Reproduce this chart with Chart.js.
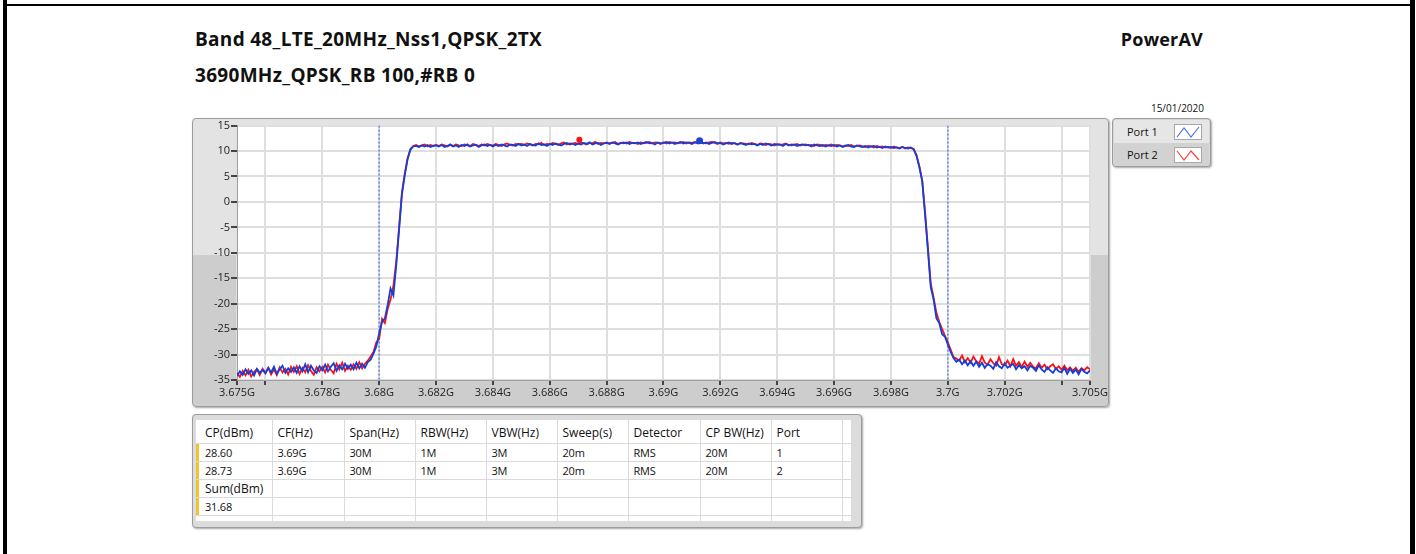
<!DOCTYPE html>
<html>
<head>
<meta charset="utf-8">
<title>Band 48 LTE 20MHz PowerAV</title>
<script src="https://cdn.jsdelivr.net/npm/chart.js@4.4.3/dist/chart.umd.min.js"></script>
<style>
  html, body { margin: 0; padding: 0; background: #fff; }
  body {
    width: 1416px; height: 554px; position: relative; overflow: hidden;
    font-family: "Open Sans", "Noto Sans", sans-serif; color: #111;
  }
  .edge { position: absolute; background: #000; }
  .title {
    position: absolute; font-weight: 700; font-size: 19px; line-height: 24px;
    letter-spacing: 0.3px; white-space: nowrap; color: #111;
  }
  .date {
    position: absolute; font-size: 10px; line-height: 14px; color: #111;
    right: 212px; top: 101px;
  }
  .panel {
    position: absolute; box-sizing: border-box;
    border: 1px solid #9c9c9c; border-radius: 4px;
    box-shadow: 1px 1px 2px rgba(0, 0, 0, 0.35);
  }
  #plot-panel {
    left: 192px; top: 118px; width: 917px; height: 289px;
    background: linear-gradient(to bottom, #e3e3e3 0, #e3e3e3 136px, #cdcdcd 136px, #cdcdcd 100%);
  }
  #chart-box { position: absolute; left: 192px; top: 118px; width: 917px; height: 289px; }
  #legend-panel {
    left: 1112px; top: 118px; width: 99px; height: 49px; background: #d6d6d6; overflow: hidden;
  }
  .legend-row {
    position: absolute; left: 1px; width: 95px; height: 23px; font-size: 11px; line-height: 23px;
  }
  .legend-row span { position: absolute; left: 13px; }
  .legend-row svg {
    position: absolute; left: 60px; top: 4px; width: 26px; height: 14px;
    background: #fff; border: 1px solid #a8a8a8;
  }
  #table-panel {
    left: 192px; top: 414px; width: 670px; height: 114px; background: #dcdcdc;
  }
  #table-inner {
    position: absolute; left: 3px; top: 5px; width: 656px; height: 101px;
    background: #fff; overflow: hidden;
  }
  #cp-table { border-collapse: collapse; table-layout: fixed; font-size: 12px; }
  #cp-table td {
    border-right: 1px solid #dadada; border-bottom: 1px solid #dadada;
    padding: 0 0 0 5px; white-space: nowrap; overflow: hidden; color: #111;
  }
  #cp-table tr.head td { height: 21px; padding-top: 2px; }
  #cp-table tr.body td { height: 17px; font-size: 11px; letter-spacing: -0.2px; }
  #cp-table tr.body td.first { font-size: 12px; letter-spacing: 0; }
  #cp-table tr.body td.mark { box-shadow: inset 3px 0 0 #f2c230; padding-left: 9px; }
  #cp-table tr.head td.mark { padding-left: 9px; }
</style>
</head>
<body>
<div class="edge" style="left:3px;top:0;width:4px;height:554px;"></div>
<div class="edge" style="left:1410px;top:0;width:5px;height:554px;"></div>
<div class="edge" style="left:7px;top:4px;width:1403px;height:2px;"></div>

<div class="title" style="left:195px;top:27px;">Band 48_LTE_20MHz_Nss1,QPSK_2TX</div>
<div class="title" style="left:195px;top:63px;">3690MHz_QPSK_RB 100,#RB 0</div>
<div class="title" style="right:213px;top:27px;font-size:18px;letter-spacing:0.2px;">PowerAV</div>
<div class="date">15/01/2020</div>

<div class="panel" id="plot-panel"></div>
<div id="chart-box"><canvas id="spectrum-chart" width="917" height="289"></canvas></div>

<div class="panel" id="legend-panel">
  <div class="legend-row" style="top:1px;background:#e6e6e6;">
    <span>Port 1</span>
    <svg viewBox="0 0 26 14"><polyline points="2,12 9,3 16,12 24,2" fill="none" stroke="#4a72e6" stroke-width="1.2"/></svg>
  </div>
  <div class="legend-row" style="top:24px;background:#d2d2d2;">
    <span>Port 2</span>
    <svg viewBox="0 0 26 14"><polyline points="2,3 9,12 16,3 24,12" fill="none" stroke="#ff4040" stroke-width="1.2"/></svg>
  </div>
</div>

<div class="panel" id="table-panel">
  <div id="table-inner"><table id="cp-table"></table></div>
</div>

<script>
// sweep: 3675 MHz .. 3705 MHz, 0.1 MHz per point (301 points), levels in dBm
const freqStartMHz = 3675;
const freqStepMHz = 0.1;

const port1Level = [
  -34.2, -33.3, -34.0, -32.9, -33.8, -33.1, -34.1, -32.8, -33.6, -33.0,
  -33.7, -32.6, -33.5, -32.4, -33.8, -32.9, -32.2, -33.6, -32.7, -33.4,
  -32.5, -33.6, -32.3, -33.3, -31.9, -33.5, -32.2, -33.1, -33.6, -32.3,
  -33.1, -32.0, -33.3, -32.4, -31.7, -33.2, -32.1, -32.9, -31.8, -32.8,
  -32.0, -32.9, -31.6, -32.7, -31.8, -32.6, -31.5, -31.0, -29.8, -28.4,
  -25.8, -23.6, -22.9, -20.2, -17.0, -18.4, -12.5, -5.5, 1.5, 5.2,
  8.4, 10.3, 10.9, 11.0, 10.8, 11.1, 10.9, 11.2, 10.8, 11.0,
  11.1, 10.9, 11.2, 10.8, 11.0, 11.3, 10.9, 11.1, 10.8, 11.2,
  11.0, 11.3, 10.9, 11.1, 11.2, 10.8, 11.1, 11.3, 11.0, 11.2,
  10.9, 11.2, 11.0, 11.3, 11.1, 10.9, 11.3, 11.2, 11.0, 11.4,
  11.1, 11.3, 11.0, 11.4, 11.2, 11.1, 11.5, 11.2, 11.3, 11.0,
  11.4, 11.2, 11.5, 11.3, 11.1, 11.4, 11.6, 11.3, 11.5, 11.2,
  11.5, 11.3, 11.6, 11.4, 11.7, 11.3, 11.5, 11.6, 11.2, 11.5,
  11.6, 11.4, 11.7, 11.5, 11.3, 11.6, 11.5, 11.7, 11.4, 11.6,
  11.5, 11.7, 11.4, 11.6, 11.8, 11.5, 11.6, 11.3, 11.7, 11.5,
  11.6, 11.8, 11.5, 11.7, 11.4, 11.6, 11.8, 11.5, 11.7, 11.6,
  11.4, 11.7, 11.6, 11.8, 11.5, 11.7, 11.4, 11.6, 11.8, 11.5,
  11.6, 11.3, 11.5, 11.7, 11.4, 11.6, 11.3, 11.5, 11.4, 11.2,
  11.5, 11.3, 11.4, 11.1, 11.4, 11.2, 11.5, 11.3, 11.1, 11.4,
  11.2, 11.3, 11.0, 11.4, 11.2, 11.1, 11.3, 11.0, 11.2, 11.3,
  11.1, 11.2, 10.9, 11.3, 11.1, 11.0, 11.2, 10.9, 11.1, 11.0,
  11.2, 10.9, 11.1, 10.8, 11.0, 11.2, 10.9, 10.8, 11.1, 10.9,
  10.8, 11.0, 10.7, 10.9, 11.0, 10.7, 10.8, 10.6, 10.9, 10.7,
  10.8, 10.6, 10.7, 10.5, 10.8, 10.6, 10.5, 10.7, 10.3, 9.0,
  6.8, 4.0, -2.5, -9.5, -16.8, -19.2, -22.9, -23.8, -26.0, -26.5,
  -28.0, -29.5, -30.7, -31.4, -31.0, -31.9, -31.2, -32.1, -31.3, -32.2,
  -31.4, -32.4, -31.6, -32.6, -31.9, -32.2, -32.8, -31.5, -32.3, -32.7,
  -31.7, -32.6, -32.2, -31.8, -32.9, -32.1, -32.7, -32.3, -33.1, -32.2,
  -32.6, -33.2, -32.1, -32.9, -33.4, -32.5, -33.1, -33.6, -32.7, -33.3,
  -33.5, -32.6, -33.8, -32.8, -33.6, -32.9, -33.9, -32.8, -33.4, -33.7,
  -33.1,
];

const port2Level = [
  -33.6, -34.4, -33.2, -34.1, -33.0, -34.3, -33.4, -32.9, -34.0, -32.8,
  -33.6, -32.6, -33.9, -32.9, -34.0, -32.5, -33.5, -32.8, -33.9, -32.4,
  -33.4, -32.3, -33.8, -32.6, -33.5, -32.1, -33.2, -34.0, -32.5, -33.3,
  -32.4, -33.5, -32.0, -33.0, -33.7, -31.8, -32.9, -31.6, -33.2, -32.2,
  -33.0, -31.9, -32.8, -31.5, -32.7, -31.8, -31.2, -30.4, -29.5, -27.6,
  -26.9, -23.0, -23.8, -21.0, -19.2, -16.5, -11.8, -5.0, 1.8, 5.6,
  8.6, 10.4, 11.0, 11.2, 10.9, 11.1, 11.3, 10.9, 11.2, 11.0,
  11.2, 11.0, 11.3, 11.1, 10.9, 11.2, 11.0, 11.3, 11.1, 11.0,
  11.3, 11.1, 11.0, 11.4, 11.2, 11.0, 11.3, 11.1, 11.4, 11.2,
  11.1, 11.4, 11.2, 11.0, 11.3, 11.5, 11.2, 11.1, 11.4, 11.3,
  11.4, 11.2, 11.5, 11.3, 11.1, 11.4, 11.3, 11.6, 11.2, 11.4,
  11.3, 11.6, 11.4, 11.2, 11.5, 11.7, 11.3, 11.5, 11.4, 11.6,
  11.4, 11.7, 11.5, 11.3, 11.6, 11.5, 11.8, 11.4, 11.6, 11.5,
  11.7, 11.5, 11.6, 11.8, 11.4, 11.6, 11.7, 11.5, 11.8, 11.6,
  11.6, 11.4, 11.7, 11.5, 11.6, 11.8, 11.5, 11.7, 11.6, 11.4,
  11.7, 11.5, 11.8, 11.6, 11.7, 11.5, 11.6, 11.8, 11.5, 11.7,
  11.6, 11.8, 11.5, 11.7, 11.6, 11.5, 11.7, 11.8, 11.6, 11.4,
  11.7, 11.5, 11.6, 11.4, 11.6, 11.5, 11.3, 11.6, 11.5, 11.4,
  11.3, 11.6, 11.4, 11.2, 11.5, 11.4, 11.2, 11.4, 11.3, 11.1,
  11.4, 11.2, 11.3, 11.5, 11.1, 11.3, 11.2, 11.4, 11.1, 11.2,
  11.3, 11.1, 11.2, 11.0, 11.3, 11.2, 11.0, 11.2, 11.1, 11.3,
  11.0, 11.2, 11.1, 10.9, 11.1, 11.0, 11.2, 10.9, 11.0, 11.1,
  10.9, 10.8, 11.0, 10.9, 10.7, 11.0, 10.8, 10.9, 10.7, 10.8,
  10.6, 10.9, 10.7, 10.6, 10.8, 10.5, 10.7, 10.6, 10.4, 9.2,
  7.0, 4.3, -2.0, -9.0, -16.0, -18.8, -21.8, -23.6, -25.0, -26.3,
  -27.6, -29.0, -30.5, -30.8, -31.2, -30.2, -31.5, -30.7, -31.6, -30.4,
  -31.3, -31.8, -30.3, -31.6, -32.0, -30.9, -31.7, -32.2, -30.5, -31.9,
  -32.1, -31.2, -32.3, -30.9, -32.2, -31.5, -32.5, -31.4, -32.4, -31.6,
  -32.4, -32.7, -31.7, -32.6, -32.0, -32.9, -32.3, -31.9, -32.8, -32.3,
  -33.0, -32.2, -33.1, -32.5, -33.2, -32.6, -33.4, -32.7, -33.1, -32.5,
  -32.9,
];

// peak markers on each trace
const port1MarkerFreq = [3691.27];
const port1MarkerLevel = [12.0];
const port2MarkerFreq = [3687.04];
const port2MarkerLevel = [12.2];

// channel power bandwidth edges (dashed lines)
const cpEdgesMHz = [3680, 3700];

const xTickValues = [3675, 3676, 3678, 3680, 3682, 3684, 3686, 3688, 3690, 3692, 3694, 3696, 3698, 3700, 3702, 3704, 3705];
const xTickLabels = ["3.675G", "", "3.678G", "3.68G", "3.682G", "3.684G", "3.686G", "3.688G", "3.69G", "3.692G", "3.694G", "3.696G", "3.698G", "3.7G", "3.702G", "", "3.705G"];
const yTickValues = [-35, -30, -25, -20, -15, -10, -5, 0, 5, 10, 15];

const tableHeaders = ["CP(dBm)", "CF(Hz)", "Span(Hz)", "RBW(Hz)", "VBW(Hz)", "Sweep(s)", "Detector", "CP BW(Hz)", "Port", ""];
const tableRows = [
  ["28.60", "3.69G", "30M", "1M", "3M", "20m", "RMS", "20M", "1", ""],
  ["28.73", "3.69G", "30M", "1M", "3M", "20m", "RMS", "20M", "2", ""],
  ["Sum(dBm)", "", "", "", "", "", "", "", "", ""],
  ["31.68", "", "", "", "", "", "", "", "", ""],
  ["", "", "", "", "", "", "", "", "", ""],
];
const tableColWidths = [76, 72, 71, 71, 71, 71, 72, 71, 71, 9];

function toPoints(levels) {
  return levels.map((level, index) => ({ x: freqStartMHz + index * freqStepMHz, y: level }));
}

function pairPoints(freqs, levels) {
  return freqs.map((freq, index) => ({ x: freq, y: levels[index] }));
}

const plotBackground = {
  id: "plotBackground",
  beforeDraw(chart) {
    const { ctx, chartArea } = chart;
    ctx.save();
    ctx.fillStyle = "#ffffff";
    ctx.fillRect(chartArea.left, chartArea.top, chartArea.right - chartArea.left, chartArea.bottom - chartArea.top);
    ctx.restore();
  },
};

const edgeDatasets = cpEdgesMHz.map((freq) => ({
  data: [{ x: freq, y: 15 }, { x: freq, y: -35 }],
  borderColor: "#5f84e4",
  borderWidth: 1.5,
  borderDash: [2, 2],
  pointRadius: 0,
}));

new Chart(document.getElementById("spectrum-chart"), {
  type: "line",
  data: {
    datasets: [
      {
        label: "Port 1 marker",
        data: pairPoints(port1MarkerFreq, port1MarkerLevel),
        showLine: false,
        pointRadius: 3.5,
        pointBackgroundColor: "#1a44d8",
        pointBorderWidth: 0,
      },
      {
        label: "Port 2 marker",
        data: pairPoints(port2MarkerFreq, port2MarkerLevel),
        showLine: false,
        pointRadius: 3,
        pointBackgroundColor: "#ff1010",
        pointBorderWidth: 0,
      },
      {
        label: "Port 1",
        data: toPoints(port1Level),
        borderColor: "#1040dc",
        borderWidth: 1.8,
        pointRadius: 0,
        tension: 0,
      },
      {
        label: "Port 2",
        data: toPoints(port2Level),
        borderColor: "#ff1010",
        borderWidth: 1.8,
        pointRadius: 0,
        tension: 0,
      },
      ...edgeDatasets,
    ],
  },
  options: {
    responsive: false,
    animation: false,
    layout: { padding: { top: 7, right: 19, bottom: 0, left: 0 } },
    plugins: {
      legend: { display: false },
      tooltip: { enabled: false },
    },
    scales: {
      x: {
        type: "linear",
        min: 3675,
        max: 3705,
        afterBuildTicks(scale) {
          scale.ticks = xTickValues.map((value) => ({ value }));
        },
        afterFit(scale) {
          scale.height = 27;
        },
        ticks: {
          autoSkip: false,
          maxRotation: 0,
          padding: 1,
          color: "#222",
          font: { family: "Open Sans", size: 11 },
          callback(value, index) {
            return xTickLabels[index];
          },
        },
        grid: { color: "#dedede", lineWidth: 2, tickColor: "#444", tickLength: 5 },
        border: { color: "#a0a0a0", width: 1 },
      },
      y: {
        min: -35,
        max: 15,
        afterBuildTicks(scale) {
          scale.ticks = yTickValues.map((value) => ({ value }));
        },
        afterFit(scale) {
          scale.width = 45;
        },
        ticks: {
          padding: 1,
          color: "#222",
          font: { family: "Open Sans", size: 11 },
          callback(value) {
            return String(value);
          },
        },
        grid: { color: "#dedede", lineWidth: 2, tickColor: "#444", tickLength: 6 },
        border: { color: "#a0a0a0", width: 1 },
      },
    },
  },
  plugins: [plotBackground],
});

function buildTable() {
  const table = document.getElementById("cp-table");
  const colgroup = document.createElement("colgroup");
  tableColWidths.forEach((width) => {
    const col = document.createElement("col");
    col.style.width = `${width}px`;
    colgroup.appendChild(col);
  });
  table.appendChild(colgroup);
  table.style.width = `${tableColWidths.reduce((sum, w) => sum + w, 0)}px`;

  const headRow = document.createElement("tr");
  headRow.className = "head";
  tableHeaders.forEach((text, index) => {
    const cell = document.createElement("td");
    cell.textContent = text;
    if (index === 0) cell.className = "mark";
    headRow.appendChild(cell);
  });
  table.appendChild(headRow);

  tableRows.forEach((row, rowIndex) => {
    const tr = document.createElement("tr");
    tr.className = "body";
    row.forEach((text, index) => {
      const cell = document.createElement("td");
      cell.textContent = text;
      if (index === 0) {
        cell.className = rowIndex < 4 ? "mark" : "";
        if (rowIndex === 2) cell.classList.add("first");
      }
      tr.appendChild(cell);
    });
    table.appendChild(tr);
  });
}

buildTable();
</script>
</body>
</html>
